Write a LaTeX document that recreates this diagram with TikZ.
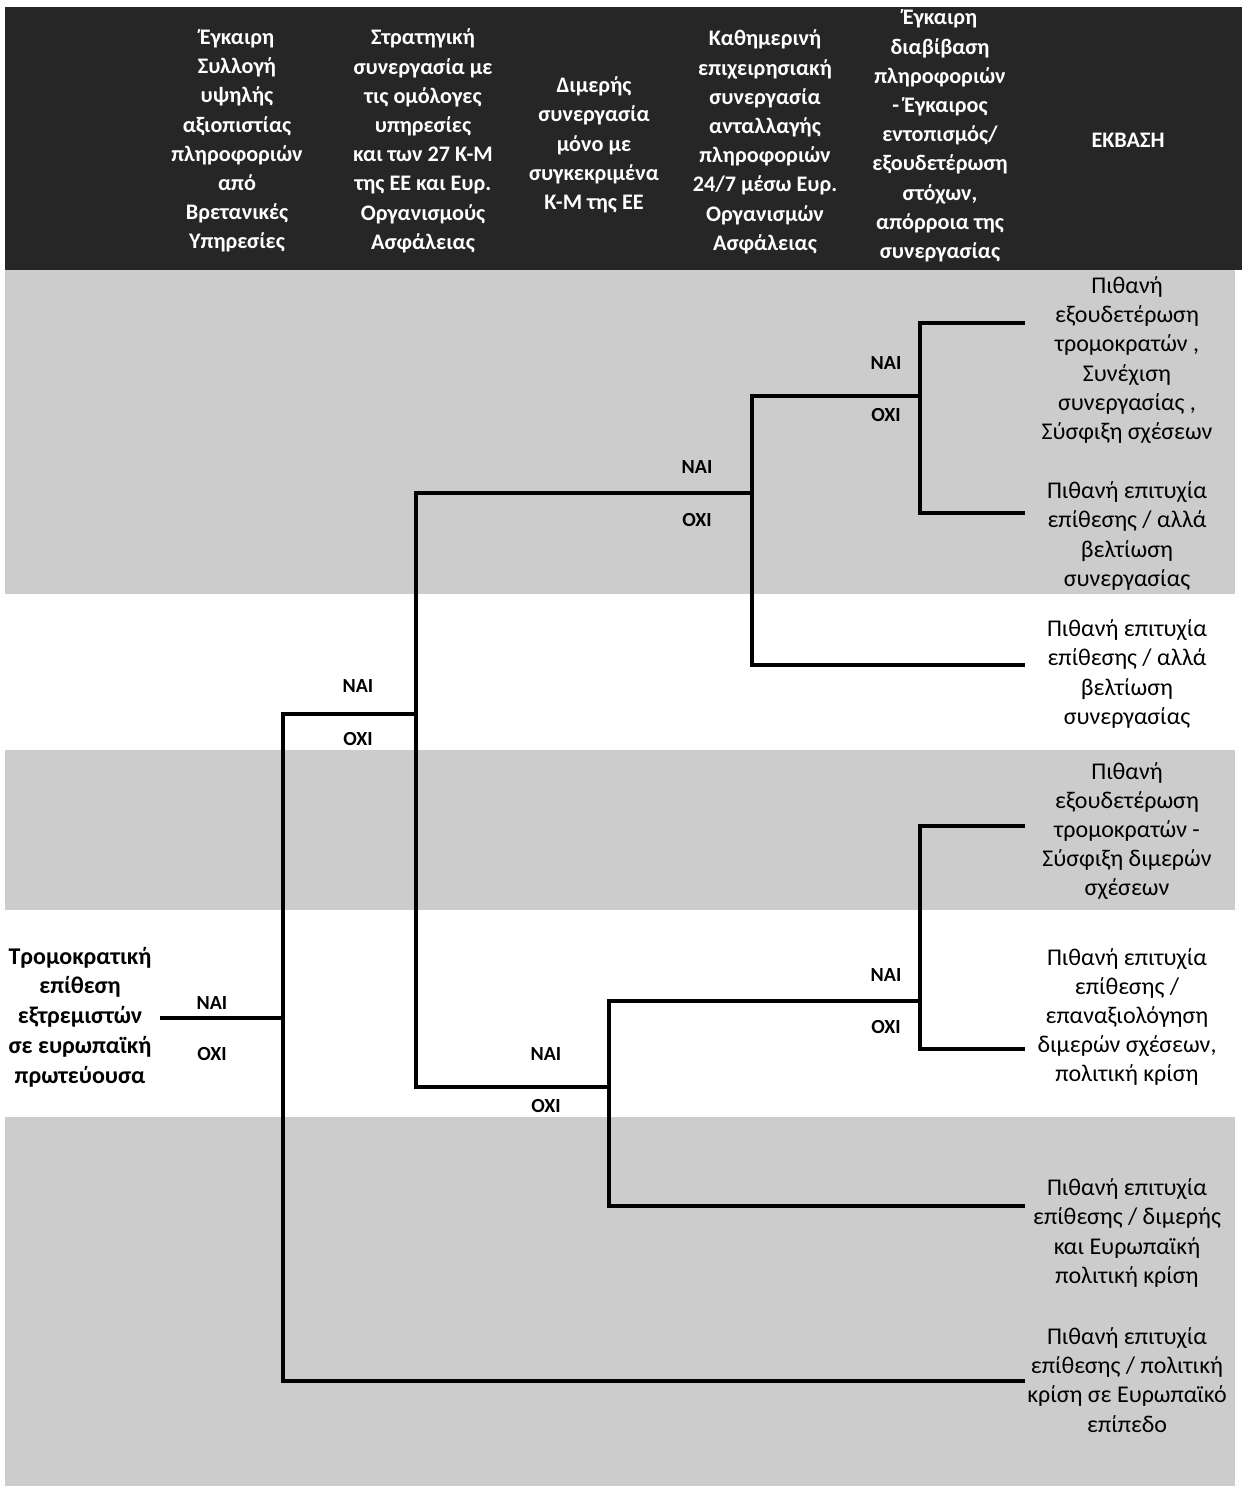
\documentclass[tikz,border=0pt]{standalone}
\usepackage{fontspec}
\setmainfont{Carlito}
\definecolor{hdr}{HTML}{262626}
\definecolor{band}{HTML}{CCCCCC}
\tikzset{
  hdrtext/.style={text=white, align=center, font=\fontsize{11.1}{14.6}\selectfont\bfseries, inner sep=0pt},
  outtext/.style={align=center, font=\fontsize{12}{14.6}\selectfont, inner sep=0pt},
  roottext/.style={align=center, font=\fontsize{12}{14.9}\selectfont\bfseries, inner sep=0pt},
  yn/.style={font=\fontsize{10}{12}\selectfont\bfseries, inner sep=0pt},
  br/.style={line width=1.9pt, line join=miter},
}
\begin{document}
\begin{tikzpicture}[x=0.5pt,y=-0.5pt]
\useasboundingbox (0,0) rectangle (1242,1486);
% background bands
\fill[hdr] (5,7) rectangle (1242,270);
\fill[band] (5,270) rectangle (1235,594);
\fill[band] (5,750) rectangle (1235,910);
\fill[band] (5,1117) rectangle (1235,1486);

% header texts
\node[hdrtext] (h1) at (237,141) {Έγκαιρη\\Συλλογή\\υψηλής\\αξιοπιστίας\\πληροφοριών\\από\\Βρετανικές\\Υπηρεσίες};
\node[hdrtext] (h2) at (423,141) {Στρατηγική\\συνεργασία με\\τις ομόλογες\\υπηρεσίες\\και των 27 Κ-Μ\\της ΕΕ και Ευρ.\\Οργανισμούς\\Ασφάλειας};
\node[hdrtext] (h3) at (594,145) {Διμερής\\συνεργασία\\μόνο με\\συγκεκριμένα\\Κ-Μ της ΕΕ};
\node[hdrtext] (h4) at (765,142) {Καθημερινή\\επιχειρησιακή\\συνεργασία\\ανταλλαγής\\πληροφοριών\\24/7 μέσω Ευρ.\\Οργανισμών\\Ασφάλειας};
\node[hdrtext] (h5) at (940,136) {Έγκαιρη\\διαβίβαση\\πληροφοριών\\- Έγκαιρος\\εντοπισμός/\\εξουδετέρωση\\στόχων,\\απόρροια της\\συνεργασίας};
\node[hdrtext] (h6) at (1128,140) {ΕΚΒΑΣΗ};

% root
\node[roottext] (root) at (80,1017) {Τρομοκρατική\\επίθεση\\εξτρεμιστών\\σε ευρωπαϊκή\\πρωτεύουσα};

% outcomes
\node[outtext] (o1) at (1127,360) {Πιθανή\\εξουδετέρωση\\τρομοκρατών ,\\Συνέχιση\\συνεργασίας ,\\Σύσφιξη σχέσεων};
\node[outtext] (o2) at (1127,536) {Πιθανή επιτυχία\\επίθεσης / αλλά\\βελτίωση\\συνεργασίας};
\node[outtext] (o3) at (1127,674) {Πιθανή επιτυχία\\επίθεσης / αλλά\\βελτίωση\\συνεργασίας};
\node[outtext] (o4) at (1127,831) {Πιθανή\\εξουδετέρωση\\τρομοκρατών -\\Σύσφιξη διμερών\\σχέσεων};
\node[outtext] (o5) at (1127,1017) {Πιθανή επιτυχία\\επίθεσης /\\επαναξιολόγηση\\διμερών σχέσεων,\\πολιτική κρίση};
\node[outtext] (o6) at (1127,1233) {Πιθανή επιτυχία\\επίθεσης / διμερής\\και Ευρωπαϊκή\\πολιτική κρίση};
\node[outtext] (o7) at (1127,1380) {Πιθανή επιτυχία\\επίθεσης / πολιτική\\κρίση σε Ευρωπαϊκό\\επίπεδο};

% junction coordinates
\coordinate (r0) at (160,1018);
\coordinate (j1) at (283,1018);
\coordinate (j1t) at (283,714);
\coordinate (j1b) at (283,1381);
\coordinate (j2) at (416,714);
\coordinate (j2t) at (416,493);
\coordinate (j2b) at (416,1087);
\coordinate (j3) at (752,493);
\coordinate (j3t) at (752,396);
\coordinate (j3b) at (752,665);
\coordinate (j4) at (920,396);
\coordinate (j4t) at (920,323);
\coordinate (j4b) at (920,513);
\coordinate (j5) at (609,1087);
\coordinate (j5t) at (609,1001);
\coordinate (j5b) at (609,1206);
\coordinate (j6) at (920,1001);
\coordinate (j6t) at (920,826);
\coordinate (j6b) at (920,1049);
\coordinate (e1) at (1025,323);
\coordinate (e2) at (1025,513);
\coordinate (e3) at (1025,665);
\coordinate (e4) at (1025,826);
\coordinate (e5) at (1025,1049);
\coordinate (e6) at (1025,1206);
\coordinate (e7) at (1025,1381);

% connectors
\draw[br] (r0) -- (j1);
\draw[br] (j2) -- (j1t) -- (j1b) -- (e7);
\draw[br] (j3) -- (j2t) -- (j2b) -- (j5);
\draw[br] (j4) -- (j3t) -- (j3b) -- (e3);
\draw[br] (e1) -- (j4t) -- (j4b) -- (e2);
\draw[br] (j6) -- (j5t) -- (j5b) -- (e6);
\draw[br] (e4) -- (j6t) -- (j6b) -- (e5);

% yes/no labels
\node[yn] (y1) at (212,1003) {ΝΑΙ};
\node[yn] (n1) at (212,1054) {ΟΧΙ};
\node[yn] (y2) at (358,686) {ΝΑΙ};
\node[yn] (n2) at (358,739) {ΟΧΙ};
\node[yn] (y3) at (697,467) {ΝΑΙ};
\node[yn] (n3) at (697,520) {ΟΧΙ};
\node[yn] (y4) at (886,363) {ΝΑΙ};
\node[yn] (n4) at (886,415) {ΟΧΙ};
\node[yn] (y5) at (546,1054) {ΝΑΙ};
\node[yn] (n5) at (546,1106) {ΟΧΙ};
\node[yn] (y6) at (886,975) {ΝΑΙ};
\node[yn] (n6) at (886,1027) {ΟΧΙ};
\end{tikzpicture}
\end{document}
